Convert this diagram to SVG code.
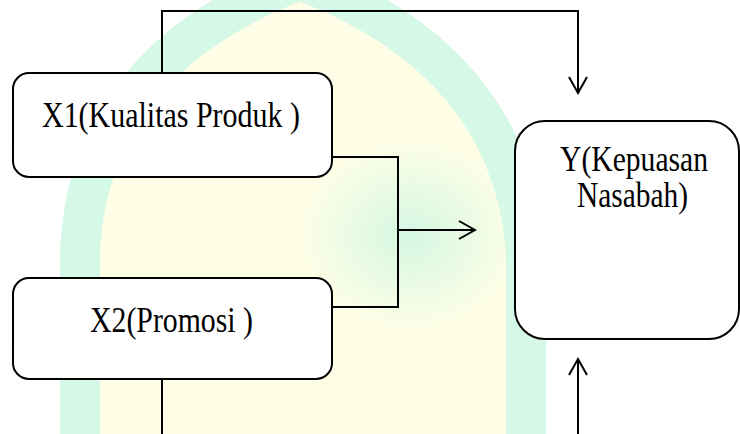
<svg xmlns="http://www.w3.org/2000/svg" width="740" height="434" viewBox="0 0 740 434">
  <defs>
    <style>
      .box { fill: #ffffff; stroke: #000000; stroke-width: 2; }
      .lbl { font-family: "Liberation Serif", "Times New Roman", serif; font-size: 35px; fill: #000000; }
      .wire { fill: none; stroke: #000000; stroke-width: 2; }
    </style>
    <marker id="arr" viewBox="0 0 20 20" refX="18" refY="10" markerWidth="20" markerHeight="20" markerUnits="userSpaceOnUse" orient="auto">
      <path d="M2,1 L18,10 L2,19" fill="none" stroke="#000000" stroke-width="2"/>
    </marker>
    <radialGradient id="glow" cx="0.5" cy="0.5" r="0.5">
      <stop offset="0" stop-color="#d4f7e2"/>
      <stop offset="1" stop-color="#d4f7e2" stop-opacity="0"/>
    </radialGradient>
  </defs>
  <rect width="740" height="434" fill="#ffffff"/>
  <g id="watermark">
    <path d="M80 440 L80 250 Q90 60 300 -20 Q510 60 526 250 L526 440 Z" fill="#fefee6"/>
    <path d="M80 440 L80 250 Q90 60 300 -20 Q510 60 526 250 L526 440" fill="none" stroke="#d6f8e6" stroke-width="40"/>
    <ellipse cx="410" cy="235" rx="110" ry="95" fill="url(#glow)"/>
  </g>
  <g id="connectors">
    <path class="wire" d="M162 73 V11 H578 V93" marker-end="url(#arr)"/>
    <path class="wire" d="M332 157 H398 V307 H332"/>
    <path class="wire" d="M398 230 H475" marker-end="url(#arr)"/>
    <path class="wire" d="M162 379 V434"/>
    <path class="wire" d="M578 434 V359" marker-end="url(#arr)"/>
  </g>
  <g id="x1">
    <rect class="box" x="13" y="73" width="319" height="104" rx="16"/>
    <text class="lbl" x="42" y="127" textLength="258" lengthAdjust="spacingAndGlyphs">X1(Kualitas Produk )</text>
  </g>
  <g id="x2">
    <rect class="box" x="13" y="278" width="319" height="101" rx="16"/>
    <text class="lbl" x="90" y="332" textLength="163" lengthAdjust="spacingAndGlyphs">X2(Promosi )</text>
  </g>
  <g id="y">
    <rect class="box" x="515" y="121" width="224" height="218" rx="30"/>
    <text class="lbl" x="560" y="171" textLength="148" lengthAdjust="spacingAndGlyphs">Y(Kepuasan</text>
    <text class="lbl" x="577" y="207" textLength="111" lengthAdjust="spacingAndGlyphs">Nasabah)</text>
  </g>
</svg>
